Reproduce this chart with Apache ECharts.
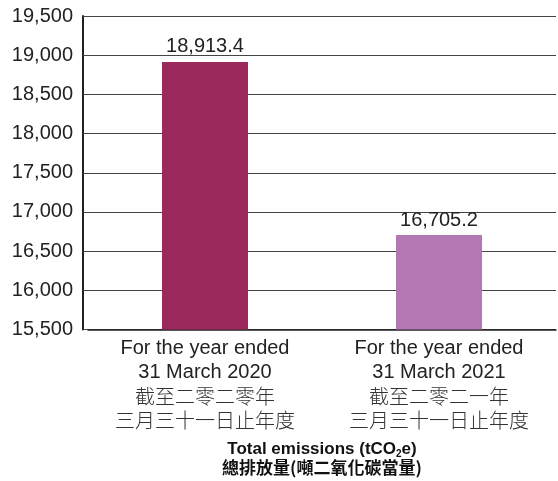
<!DOCTYPE html>
<html>
<head>
<meta charset="utf-8">
<script src="https://cdn.jsdelivr.net/npm/echarts@6/dist/echarts.min.js"></script>
<style>
  html, body { margin: 0; padding: 0; background: #fff; }
  #chart { width: 558px; height: 481px; }
</style>
</head>
<body>
<div id="chart"></div>
<script>
// Reporting periods (English + Chinese)
const categories = [
  'For the year ended\n31 March 2020\n截至二零二零年\n三月三十一日止年度',
  'For the year ended\n31 March 2021\n截至二零二一年\n三月三十一日止年度'
];
// Total emissions in tCO2e
const emissions = [18913.4, 16705.2];
const barColors = ['#9B295C', '#B378B4'];
const yMin = 15500, yMax = 19500, yStep = 500;

const latin = 'Arial, "Liberation Sans", Helvetica, sans-serif';
const cjk = '"Noto Sans CJK TC", "Noto Sans CJK SC", sans-serif';

const chart = echarts.init(document.getElementById('chart'));
chart.setOption({
  animation: false,
  grid: { left: 88, right: 2, top: 16, bottom: 151 },
  xAxis: {
    type: 'category',
    data: categories,
    axisLine: { lineStyle: { color: '#222', width: 1.5 } },
    axisTick: { show: false },
    axisLabel: {
      interval: 0,
      margin: 7,
      color: '#222',
      fontSize: 20,
      lineHeight: 24,
      fontFamily: latin,
      formatter: v => {
        const p = v.split('\n');
        return `{en|${p[0]}}\n{en|${p[1]}}\n{zh|${p[2]}}\n{zh|${p[3]}}`;
      },
      rich: {
        en: { fontSize: 20, lineHeight: 24, fontFamily: latin, color: '#222' },
        zh: { fontSize: 20, lineHeight: 24, fontFamily: cjk, fontWeight: 300, color: '#333' }
      }
    },
    name: '{t|Total emissions (tCO}{s|2}{t|e)}\n{z|總排放量(噸二氧化碳當量)}',
    nameLocation: 'middle',
    nameGap: 111,
    nameTextStyle: {
      rich: {
        t: { fontSize: 17, fontWeight: 'bold', fontFamily: latin, color: '#111', lineHeight: 18 },
        s: { fontSize: 10, fontWeight: 'bold', fontFamily: latin, color: '#111', lineHeight: 18, padding: [9, 0, 0, 0] },
        z: { fontSize: 17, fontWeight: 'bold', fontFamily: cjk, color: '#111', lineHeight: 18 }
      }
    }
  },
  yAxis: {
    type: 'value',
    min: yMin,
    max: yMax,
    interval: yStep,
    offset: 5,
    axisLine: { show: true, lineStyle: { color: '#222', width: 2 } },
    axisTick: { show: true, inside: true, length: 5, lineStyle: { color: '#444', width: 1 } },
    splitLine: { lineStyle: { color: '#444', width: 1 } },
    axisLabel: {
      margin: 10,
      color: '#222',
      fontSize: 20,
      fontFamily: latin,
      formatter: v => v.toLocaleString('en-US')
    }
  },
  series: [{
    type: 'bar',
    barWidth: 86,
    data: emissions.map((v, i) => ({ value: v, itemStyle: { color: barColors[i] } })),
    label: {
      show: true,
      position: 'top',
      distance: 5,
      color: '#222',
      fontSize: 20,
      fontFamily: latin,
      formatter: p => p.value.toLocaleString('en-US', { minimumFractionDigits: 1, maximumFractionDigits: 1 })
    }
  }]
});
</script>
</body>
</html>
